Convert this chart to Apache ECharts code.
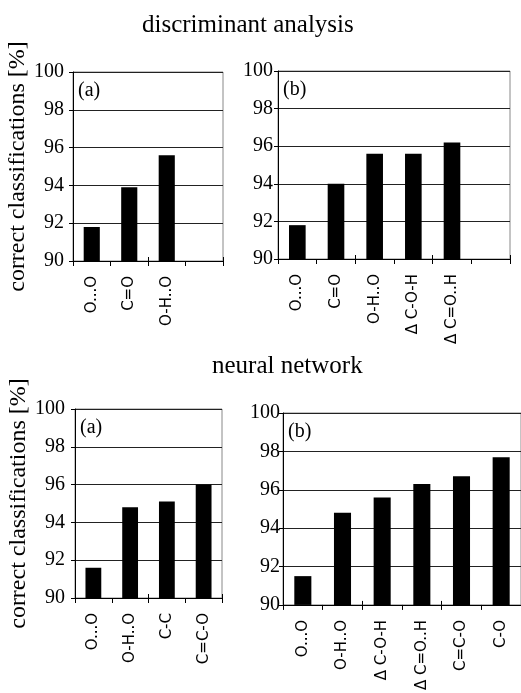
<!DOCTYPE html>
<html>
<head>
<meta charset="UTF-8">
<title>discriminant analysis / neural network</title>
<script src="https://cdnjs.cloudflare.com/ajax/libs/echarts/6.0.0/echarts.min.js"></script>
<style>
  html, body { margin: 0; padding: 0; background: #fff; }
</style>
</head>
<body>
<div id="myChart" style="width: 521px; height: 693px;"></div>
<script>
// data
const daCatsA = ['O...O', 'C=O', 'O-H..O', ''];
const daValsA = [91.8, 93.9, 95.6, '-'];
const daCatsB = ['O...O', 'C=O', 'O-H..O', '\u0394 C-O-H', '\u0394 C=O..H', ''];
const daValsB = [91.8, 94.0, 95.6, 95.6, 96.2, '-'];
const nnCatsA = ['O...O', 'O-H..O', 'C-C', 'C=C-O'];
const nnValsA = [91.6, 94.8, 95.1, 96.0];
const nnCatsB = ['O...O', 'O-H..O', '\u0394 C-O-H', '\u0394 C=O..H', 'C=C-O', 'C-O'];
const nnValsB = [91.5, 94.8, 95.6, 96.3, 96.7, 97.7];

const serif = 'Liberation Serif';
const sans = 'DejaVu Sans';

// panel boxes: left, top, width, height, label margin, panel letter
const panels = [
  { cats: daCatsA, vals: daValsA, left: 73, top: 72, width: 150, height: 189, lm: 9, tag: '(a)', name: true },
  { cats: daCatsB, vals: daValsB, left: 278, top: 71, width: 232, height: 188, lm: 5, tag: '(b)', name: false },
  { cats: nnCatsA, vals: nnValsA, left: 75, top: 409, width: 147, height: 189, lm: 10, tag: '(a)', name: true },
  { cats: nnCatsB, vals: nnValsB, left: 283, top: 413, width: 240, height: 192, lm: 3, tag: '(b)', name: false }
];

const grid = [], xAxis = [], yAxis = [], series = [];
const title = [
  { text: 'discriminant analysis', left: 137, top: 8,
    textStyle: { fontFamily: serif, fontSize: 25, fontWeight: 'normal', color: '#000' } },
  { text: 'neural network', left: 207, top: 349,
    textStyle: { fontFamily: serif, fontSize: 25, fontWeight: 'normal', color: '#000' } }
];

panels.forEach((p, i) => {
  grid.push({ left: p.left, top: p.top, width: p.width, height: p.height,
    show: true, borderColor: '#888', borderWidth: 1, containLabel: false });
  xAxis.push({
    type: 'category', gridIndex: i, data: p.cats,
    axisLine: { lineStyle: { color: '#000', width: 1 } },
    axisTick: { show: true, length: 5, lineStyle: { color: '#000' } },
    axisLabel: { rotate: 90, margin: 15, fontFamily: sans, fontSize: 15, color: '#000', interval: 0 }
  });
  yAxis.push({
    type: 'value', gridIndex: i, min: 90, max: 100, interval: 2,
    name: p.name ? 'correct classifications [%]' : '',
    nameLocation: 'middle', nameRotate: 90, nameGap: 38,
    nameTextStyle: { fontFamily: serif, fontSize: 24, color: '#000' },
    axisLine: { show: true, lineStyle: { color: '#000', width: 1 } },
    axisTick: { show: true, length: 4, lineStyle: { color: '#000' } },
    axisLabel: { margin: p.lm, fontFamily: serif, fontSize: 20, color: '#000' },
    splitLine: { show: true, lineStyle: { color: '#222', width: 1 } }
  });
  series.push({
    type: 'bar', xAxisIndex: i, yAxisIndex: i, data: p.vals,
    barWidth: '43%', itemStyle: { color: '#000' }, silent: true
  });
  title.push({ text: p.tag, left: p.left, top: p.top + 4,
    textStyle: { fontFamily: serif, fontSize: 20, fontWeight: 'normal', color: '#000' } });
});

// second set of category axes, only for the part of the ticks above the axis line
panels.forEach((p, i) => {
  xAxis.push({
    type: 'category', gridIndex: i, data: p.cats, position: 'bottom',
    axisLine: { show: false },
    axisTick: { show: true, inside: true, length: 4, lineStyle: { color: '#000' } },
    axisLabel: { show: false }
  });
});

const myChart = echarts.init(document.getElementById('myChart'));
myChart.setOption({
  animation: false,
  backgroundColor: '#fff',
  title: title,
  grid: grid,
  xAxis: xAxis,
  yAxis: yAxis,
  series: series
});
</script>
</body>
</html>
